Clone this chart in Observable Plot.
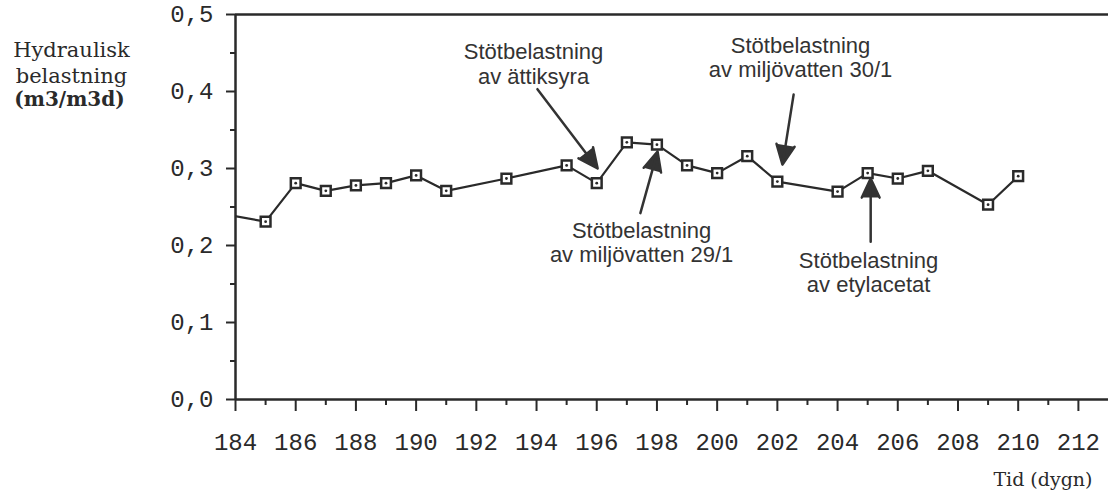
<!DOCTYPE html>
<html>
<head>
<meta charset="utf-8">
<script src="https://cdn.jsdelivr.net/npm/d3@7"></script>
<script src="https://cdn.jsdelivr.net/npm/@observablehq/plot@0.6"></script>
<style>
  html, body { margin: 0; padding: 0; background: #fff; }
  #chart { width: 1108px; height: 496px; overflow: hidden; }
</style>
</head>
<body>
<div id="chart"></div>
<script>
// Time (days) and hydraulic load (m3/m3d); the 183 value only feeds the clipped line entering at 184
const days = [183, 185, 186, 187, 188, 189, 190, 191, 193, 195, 196, 197, 198, 199, 200, 201, 202, 204, 205, 206, 207, 209, 210];
const load = [0.245, 0.231, 0.281, 0.271, 0.278, 0.281, 0.291, 0.271, 0.287, 0.304, 0.281, 0.334, 0.331, 0.304, 0.294, 0.316, 0.283, 0.270, 0.294, 0.287, 0.297, 0.253, 0.290];

// Axis ticks
const xMajorTicks = [184, 186, 188, 190, 192, 194, 196, 198, 200, 202, 204, 206, 208, 210, 212];
const xMinorTicks = [185, 187, 189, 191, 193, 195, 197, 199, 201, 203, 205, 207, 209, 211];
const yMajorTicks = [0, 0.1, 0.2, 0.3, 0.4, 0.5];
const yTickLabels = ["0,0", "0,1", "0,2", "0,3", "0,4", "0,5"];
const yMinorTicks = [0.05, 0.15, 0.25, 0.35, 0.45];

// Annotations (data units)
const annText = ["Stötbelastning\nav ättiksyra", "Stötbelastning\nav miljövatten 30/1", "Stötbelastning\nav miljövatten 29/1", "Stötbelastning\nav etylacetat"];
const annTextX = [193.9, 202.77, 197.49, 205.03];
const annTextY = [0.436, 0.444, 0.204, 0.165];
const arrowX1 = [194.03, 202.54, 197.45, 205.10];
const arrowY1 = [0.403, 0.396, 0.242, 0.205];
const arrowX2 = [196.03, 202.17, 198.02, 205.10];
const arrowY2 = [0.300, 0.305, 0.322, 0.287];

const yTitle = ["Hydraulisk\nbelastning"];
const yUnit = ["(m3/m3d)"];
const xTitle = ["Tid (dygn)"];

const series = days.map((d, i) => ({day: d, value: load[i]}));
const ann = annText.map((t, i) => ({text: t, x: annTextX[i], y: annTextY[i], x1: arrowX1[i], y1: arrowY1[i], x2: arrowX2[i], y2: arrowY2[i]}));

const ink = "#2a2a2a";
const mono = "'Liberation Mono', 'DejaVu Sans Mono', monospace";
const serif = "'DejaVu Serif', serif";
const sans = "'Liberation Sans', Arial, sans-serif";

const chart = Plot.plot({
  width: 1108,
  height: 496,
  marginLeft: 235,
  marginRight: 0,
  marginTop: 14,
  marginBottom: 97,
  x: {domain: [184, 213], label: null},
  y: {domain: [0, 0.5], label: null},
  style: {background: "white", color: ink},
  marks: [
    // frame lines
    Plot.ruleY([0.5], {stroke: ink, strokeWidth: 2.5}),
    Plot.ruleY([0], {stroke: ink, strokeWidth: 2.5}),
    Plot.ruleX([184], {y1: 0, y2: 0.5, stroke: ink, strokeWidth: 2.5}),
    // axes
    Plot.axisX({ticks: xMajorTicks, tickSize: 12, tickPadding: 21, strokeWidth: 2, fontSize: 24, fontFamily: mono, tickFormat: d => String(d), label: null}),
    Plot.axisX({ticks: xMinorTicks, tickSize: 6, strokeWidth: 2, tickFormat: () => "", label: null}),
    Plot.axisY({ticks: yMajorTicks, tickSize: 9, tickPadding: 13, strokeWidth: 2, fontSize: 24, fontFamily: mono, tickFormat: (d, i) => yTickLabels[i], label: null}),
    Plot.axisY({ticks: yMinorTicks, tickSize: 5, strokeWidth: 2, tickFormat: () => "", label: null}),
    // data
    Plot.line(series, {x: "day", y: "value", stroke: ink, strokeWidth: 2.2, clip: true}),
    Plot.dot(series, {x: "day", y: "value", symbol: "square", r: 5.5, fill: "white", stroke: ink, strokeWidth: 2.5, clip: true}),
    Plot.dot(series, {x: "day", y: "value", r: 1.4, fill: ink, stroke: "none", clip: true}),
    // annotations
    Plot.arrow(ann, {x1: "x1", y1: "y1", x2: "x2", y2: "y2", stroke: "#333", fill: "#333", strokeWidth: 2.5, headLength: 13, headAngle: 50}),
    Plot.text(ann, {x: "x", y: "y", text: "text", fontSize: 22, fontFamily: sans, fill: "#333", lineHeight: 1.1, textAnchor: "middle"}),
    // titles
    Plot.text(yTitle, {text: d => d, frameAnchor: "top-left", dx: -164, dy: 47, textAnchor: "middle", lineAnchor: "middle", fontSize: 21, fontFamily: serif, lineHeight: 1.25, fill: ink}),
    Plot.text(yUnit, {text: d => d, frameAnchor: "top-left", dx: -166, dy: 85, textAnchor: "middle", lineAnchor: "middle", fontSize: 20, fontWeight: "bold", fontFamily: serif, fill: ink}),
    Plot.text(xTitle, {text: d => d, frameAnchor: "bottom-right", dx: -16, dy: 80, textAnchor: "end", lineAnchor: "middle", fontSize: 19, fontFamily: serif, fill: ink})
  ]
});

document.getElementById("chart").appendChild(chart);
</script>
</body>
</html>
